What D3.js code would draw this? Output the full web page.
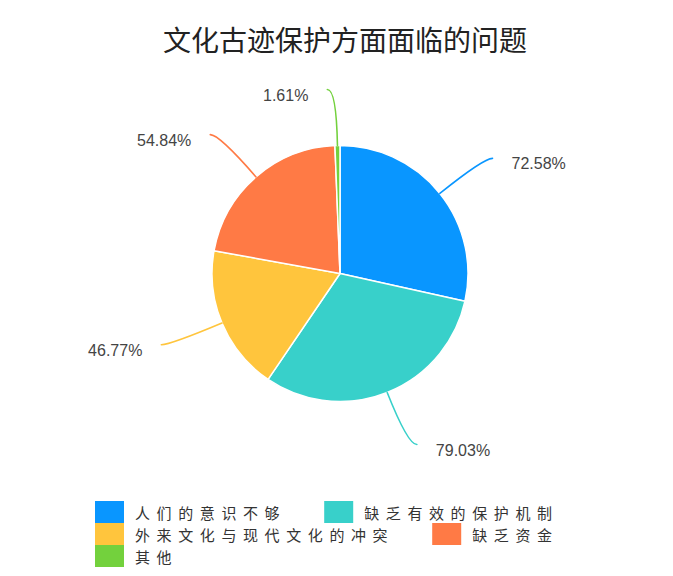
<!DOCTYPE html>
<html>
<head>
<meta charset="utf-8">
<script src="https://cdn.jsdelivr.net/npm/d3@7"></script>
<style>
  html, body { margin: 0; padding: 0; background: #fff; }
  svg { display: block; }
</style>
</head>
<body>
<div id="chart"></div>
<script>
(function () {
  'use strict';

  // --- Data ---
  const categories = ['人们的意识不够', '缺乏有效的保护机制', '外来文化与现代文化的冲突', '缺乏资金', '其他'];
  const values = [72.58, 79.03, 46.77, 54.84, 1.61];
  const labels = ['72.58%', '79.03%', '46.77%', '54.84%', '1.61%'];
  const colors = ['#0996FF', '#38D0CA', '#FFC53D', '#FF7A45', '#73D13D'];

  const W = 673, H = 576;
  const cx = 340, cy = 273.5, r = 128;
  const len1 = 56, len2 = 9;

  const svg = d3.select('#chart').append('svg')
    .attr('width', W).attr('height', H);

  // Title
  svg.append('text')
    .attr('x', 345).attr('y', 39)
    .attr('text-anchor', 'middle')
    .attr('dominant-baseline', 'central')
    .attr('fill', '#222')
    .attr('font-size', '28px')
    .attr('font-family', '"Noto Sans CJK SC", sans-serif')
    .text('文化古迹保护方面面临的问题');

  const data = categories.map((c, i) => ({ name: c, value: values[i], label: labels[i], color: colors[i] }));

  const pie = d3.pie().sort(null).value(d => d.value);
  const arcs = pie(data);
  const arc = d3.arc().innerRadius(0).outerRadius(r);

  const g = svg.append('g').attr('transform', `translate(${cx},${cy})`);

  // Slices
  g.selectAll('path.slice')
    .data(arcs)
    .join('path')
    .attr('class', 'slice')
    .attr('d', arc)
    .attr('fill', d => d.data.color)
    .attr('stroke', '#fff')
    .attr('stroke-width', 1.5)
    .attr('stroke-linejoin', 'round');

  // Leader lines + labels
  arcs.forEach(d => {
    const a = (d.startAngle + d.endAngle) / 2;
    const sx = Math.sin(a), sy = -Math.cos(a);
    const right = sx >= 0;
    const p0 = [sx * r, sy * r];
    const p1 = [sx * (r + len1), sy * (r + len1)];
    const p2 = [p1[0] + (right ? len2 : -len2), p1[1]];

    const p = d3.path();
    p.moveTo(p0[0], p0[1]);
    p.quadraticCurveTo(p1[0], p1[1], p2[0], p2[1]);

    g.append('path')
      .attr('d', p.toString())
      .attr('fill', 'none')
      .attr('stroke', d.data.color)
      .attr('stroke-width', 1.6)
      .attr('stroke-linecap', 'round');

    g.append('text')
      .attr('x', p2[0] + (right ? 19 : -19))
      .attr('y', p2[1] + 5.5)
      .attr('text-anchor', right ? 'start' : 'end')
      .attr('dominant-baseline', 'central')
      .attr('fill', '#444')
      .attr('font-size', '16px')
      .attr('font-family', '"Liberation Sans", sans-serif')
      .text(d.data.label);
  });

  // Legend (flow layout)
  const legend = svg.append('g');
  const lx0 = 95, ly0 = 501, lxMax = 575;
  const swW = 29, swH = 22, gapText = 11, itemGap = 38, rowH = 22;
  let lx = lx0, ly = ly0;

  data.forEach(d => {
    const item = legend.append('g');
    item.append('rect')
      .attr('width', swW).attr('height', swH)
      .attr('fill', d.color);
    const t = item.append('text')
      .attr('x', swW + gapText)
      .attr('y', swH / 2)
      .attr('dominant-baseline', 'central')
      .attr('fill', '#333')
      .attr('font-size', '15px')
      .attr('letter-spacing', '6.6px')
      .attr('font-family', '"Noto Sans CJK SC", sans-serif')
      .text(d.name);
    const w = swW + gapText + t.node().getComputedTextLength();
    if (lx > lx0 && lx + w > lxMax) {
      lx = lx0;
      ly += rowH;
    }
    item.attr('transform', `translate(${lx},${ly})`);
    lx += w + itemGap;
  });
})();
</script>
</body>
</html>
